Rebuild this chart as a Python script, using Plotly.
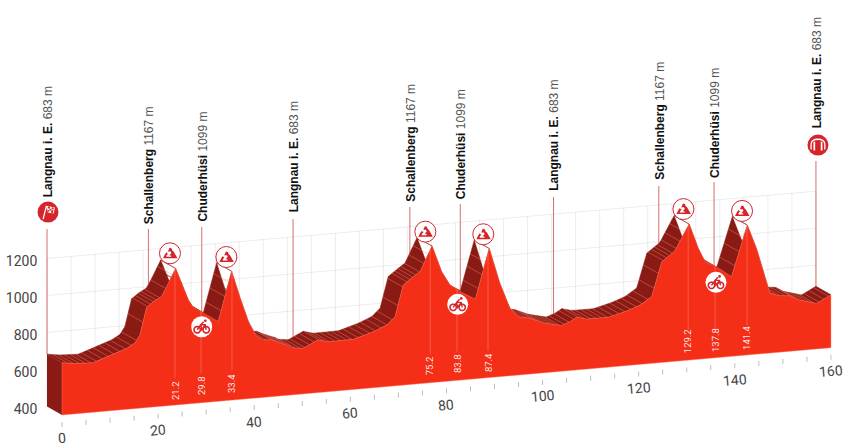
import numpy as np
import plotly.graph_objects as go

# ---- profile ----
profile_km = [0,2.7,6.5,7.9,10.7,13.5,15.2,16.2,17.6,19,20.7,21.8,23.65,24.9,26.3,27.3,28.7,30.4,32.5,35.3,37,38.8,40.4,41.9,43.6,45.4,47.4,47.8,50.2,53.3,55.4,60.6,64.8,67.6,69.3,71,73.1,74.5,77,79,80.7,83.5,86,88.9,91.1,93.2,95,97.4,100.1,103.9,105.7,107.1,109.2,113.7,117.5,120.3,122.7,124.8,127.5,130.5,132.4,133.8,136.6,139.3,142.6,144.5,147.3,149.4,151.5,153.2,157,160]
profile_ele = [683,672,668,680,705,730,756,795,942,969,993,1044,1138,1055,962,920,898,868,831,1097,954,816,736,711,707,685,665,655,647,685,670,671,703,733,774,941,981,1006,1138,995,920,868,831,1098,905,765,715,701,671,647,664,685,671,670,695,721,761,944,996,1135,999,925,883,831,1102,972,723,705,700,674,646,686]

stripe_km = [1.2,2.4,3.6,4.8,6,7.2,8.4,9.6,10.8,12,13.2,14.4,15.5,16.85,17.8,18.4,19,19.6,20.3,21.6,23,33.1,33.9,34.7,
             39.5,40.5,41.5,42.5,43.5,44.5,45.5,46.5,47.5,48.5,49.5,50.5,51.5,52.5,53.5,54.5,55.6,56.8,58,59.2,60.4,61.6,62.8,64,65.2,66.4,67.6,68.7,69.9,70.9,71.8,72.4,73,73.6,74.4,75.3,76.2,86.6,87.4,88.1,
             92.5,93.5,94.5,95.5,96.5,97.5,98.5,99.5,100.5,101.5,102.5,103.5,104.5,105.5,106.5,107.5,108.7,109.9,111.1,112.3,113.5,114.7,115.9,117.1,118.3,119.5,120.7,121.9,123.2,124.1,125.1,125.8,126.4,127,127.8,128.6,129.6,140,140.9,141.8,
             146.5,147.5,148.5,149.5,150.5,151.5,152.5,153.5,154.5,155.5,156.5,157.5,158.5,159.5]

# ---- axes ----
x_ticks = [0,20,40,60,80,100,120,140,160]
x_minor = list(range(0,161,5))
y_ticks = [400,600,800,1000,1200]
y_labels = ["400","600","800","1000","1200"]

# ---- named places ----
place_names = ["Langnau i. E.","Schallenberg","Chuderhüsi","Langnau i. E.","Schallenberg","Chuderhüsi","Langnau i. E.","Schallenberg","Chuderhüsi","Langnau i. E."]
place_alt = [683,1167,1099,683,1167,1099,683,1167,1099,683]
place_km = [0,21.1,32.2,51.2,75.5,86.0,105.4,127.3,138.8,160]
leader_top = [1405,1405,1416,1459,1524,1540,1578,1638,1659,1773]
label_base = [1568,1422,1433,1482,1541,1557,1601,1660,1671,1941]

# ---- km labels on the front face ----
split_text = ["21.2","29.8","33.4","75.2","83.8","87.4","129.2","137.8","141.4"]
split_x = [23.51,28.92,35.37,76.63,82.19,88.64,130.3,135.87,142.53]
split_y = [535,562,573,665,681,686,800,805,822]

# ---- icons ----
climb_x = [22.47,34.2,75.6,87.66,129.3,141.5]
climb_y = [1274,1254,1391,1377,1513,1503]
sprint_x = [29.07,82.33,136.08]
sprint_y = [877,998,1117]
start_xy = (-2.91,1497)
finish_xy = (157.3,1859)

# ---- projection constants ----
SHEAR = 2.274      # metres of rise per km along the receding axis
DEPTH_X = -3.12    # km
DEPTH_Y = 46       # metres

RED = "#F42E17"
DARK = "#8A1A14"
ICON = "#D5252B"

km = np.array(profile_km, float)
ele = np.array(profile_ele, float)

def fy(k, e):
    return np.asarray(e, float) + SHEAR*np.asarray(k, float)
def bx(k):
    return np.asarray(k, float) + DEPTH_X
def by(k, e):
    return fy(k, e) + DEPTH_Y
def lines(segs):
    xs, ys = [], []
    for (x0,y0,x1,y1) in segs:
        xs += [x0,x1,None]; ys += [y0,y1,None]
    return xs, ys

fig = go.Figure()
def add_lines(segs, color, width):
    xs, ys = lines(segs)
    fig.add_trace(go.Scatter(x=xs, y=ys, mode="lines", line=dict(color=color, width=width)))

# back-plane grid
grid = []
for e in y_ticks:
    grid.append((bx(0), by(0,e), bx(160), by(160,e)))
for k in x_minor:
    grid.append((bx(k), by(k,400), bx(k), by(k,1200)))
add_lines(grid, "rgba(0,0,0,0.075)", 1)

# left side face
fig.add_trace(go.Scatter(x=[0,0,bx(0),bx(0),0], y=[fy(0,400),fy(0,ele[0]),by(0,ele[0]),by(0,400),fy(0,400)],
                         mode="lines", fill="toself", fillcolor=DARK, line=dict(width=0)))

# receding band, one quad per segment
qx, qy = [], []
for i in range(len(km)-1):
    a, b = km[i], km[i+1]
    ea, eb = ele[i], ele[i+1]
    qx += [a, b, bx(b), bx(a), a, None]
    qy += [fy(a,ea), fy(b,eb), by(b,eb), by(a,ea), fy(a,ea), None]
fig.add_trace(go.Scatter(x=qx, y=qy, mode="lines", fill="toself", fillcolor=DARK, line=dict(width=0.5, color=DARK)))

# stripes across the band
st = []
for k in stripe_km:
    e = float(np.interp(k, km, ele))
    st.append((bx(k), by(k,e), k, fy(k,e)))
add_lines(st, "rgba(255,140,120,0.5)", 0.8)

# leader lines
lead = []
for k, top in zip(place_km, leader_top):
    e = float(np.interp(k, km, ele))
    lead.append((bx(k), top, bx(k), by(k,e)))
add_lines(lead, "rgba(200,50,50,0.7)", 1)

# front face
fig.add_trace(go.Scatter(x=list(km)+[160,0,0], y=list(fy(km,ele))+[fy(160,400),fy(0,400),fy(km[0],ele[0])],
                         mode="lines", fill="toself", fillcolor=RED, line=dict(width=0.6, color="rgba(255,120,100,0.7)")))

# thin white lines on the face
wl = []
for k, y in zip(split_x, split_y):
    e = float(np.interp(k, km, ele))
    wl.append((k, fy(k,e), k, y+62))
add_lines(wl, "rgba(255,255,255,0.22)", 1)

# ticks
ti = []
for k in x_minor:
    ti.append((k, fy(k,362), k, fy(k,335)))
add_lines(ti, "#BDBDBD", 1)

# icon discs
fig.add_trace(go.Scatter(x=climb_x, y=climb_y, mode="markers",
                         marker=dict(size=21, color="white", line=dict(color=ICON, width=1))))
fig.add_trace(go.Scatter(x=sprint_x, y=sprint_y, mode="markers",
                         marker=dict(size=21, color="white", line=dict(width=0))))
fig.add_trace(go.Scatter(x=[start_xy[0],finish_xy[0]], y=[start_xy[1],finish_xy[1]], mode="markers",
                         marker=dict(size=21, color=ICON, line=dict(width=0))))

# icon glyphs
def icon(x, y, path, fill=None, line=None, width=0):
    fig.add_shape(type="path", xsizemode="pixel", ysizemode="pixel", xanchor=x, yanchor=y, path=path,
                  fillcolor=fill if fill else "rgba(0,0,0,0)",
                  line=dict(color=line if line else "rgba(0,0,0,0)", width=width))

def ring(cx, cy, r, n=14):
    t = np.linspace(0, 2*np.pi, n, endpoint=False)
    pts = [f"{cx+r*np.cos(a):.2f},{cy+r*np.sin(a):.2f}" for a in t]
    return "M" + " L".join(pts) + " Z"

MOUNT = "M-7,-5 L-5,-1 L-3.5,1 L-2.4,1 L-0.5,5.5 L1.5,5 L2.5,2.5 L3.5,2 L7.5,-5 Z"
BLOB = "M-3.5,-3.5 L1.2,-3.5 L1.2,-2.2 L-0.8,-2.2 L1.4,0.2 L0.6,1.8 L-2,1.8 L-3.4,0.4 L-2.2,-0.4 L-1,0.4 L-3.5,-2.3 Z"
for x, y in zip(climb_x, climb_y):
    icon(x, y, MOUNT, fill=ICON)
    icon(x, y, BLOB, fill="white")

BIKE = "M-4.5,-3 L-1,2 L3.5,2 L4.5,-3 M-1,2 L0,-3 L3.5,2 M2,5 L-1,2"
for x, y in zip(sprint_x, sprint_y):
    icon(x, y, ring(-4.5,-3,3.2), line=ICON, width=1.6)
    icon(x, y, ring(4.5,-3,3.2), line=ICON, width=1.6)
    icon(x, y, BIKE, line=ICON, width=1.4)
    icon(x, y, ring(3.6,6,1.4), fill=ICON)

POLE = "M-5.5,-7 L-4.3,-7.2 L-1,6 L-2.2,6.3 Z"
FLAG = "M-2,6.3 L6.8,4.5 L5.8,-1.5 L-0.2,-0.5 Z"
CHECK = "M0,5.6 L2,5.2 L1.7,3.4 L-0.4,3.8 Z M3.8,4.8 L5.8,4.4 L5.5,2.6 L3.5,3 Z M1.7,3.4 L3.5,3 L3.2,1.2 L1.3,1.6 Z M-0.4,2.2 L-0.7,0.6 L1,0.3 L1.3,1.6 Z M5.4,2.4 L3.2,1.2 L3,-0.6 L5.1,-1 Z"
icon(start_xy[0], start_xy[1], POLE, fill="white")
icon(start_xy[0], start_xy[1], FLAG, fill="white")
icon(start_xy[0], start_xy[1], CHECK, fill=ICON)

ARCH = "M-7.5,-4.5 L-7.5,1 Q-7,6.5 0,6.5 Q7,6.5 7.5,1 L7.5,-4.5 L6.2,-4.5 L6.2,1 Q5.8,5.2 0,5.2 Q-5.8,5.2 -6.2,1 L-6.2,-4.5 Z"
POSTS = "M-4.5,-5.5 L-2.8,-5.5 L-2.8,3.6 L-4.5,3 Z M2.8,-5.5 L4.5,-5.5 L4.5,3 L2.8,3.6 Z"
icon(finish_xy[0], finish_xy[1], ARCH, fill="white")
icon(finish_xy[0], finish_xy[1], POSTS, fill="white")

# texts
ann = []
for name, alt, k, base in zip(place_names, place_alt, place_km, label_base):
    ann.append(dict(x=bx(k)+0.2, y=base, xref="x", yref="y", xanchor="center", yanchor="bottom", textangle=-90,
                    showarrow=False, text=f"<b>{name}</b> <span style='color:#555'>{alt} m</span>",
                    font=dict(family="Liberation Sans", size=12, color="#111")))
for t, k, y in zip(split_text, split_x, split_y):
    ann.append(dict(x=k, y=y, xref="x", yref="y", textangle=-90, showarrow=False, text=t,
                    font=dict(family="Roboto", size=9.5, color="rgba(255,255,255,0.9)")))
for k in x_ticks:
    ann.append(dict(x=k, y=fy(k,273), xref="x", yref="y", textangle=-5, showarrow=False, text=str(k),
                    font=dict(family="Roboto", size=14, color="#444")))

fig.update_layout(
    width=848, height=447, margin=dict(l=0, r=0, t=0, b=0),
    paper_bgcolor="white", plot_bgcolor="white", showlegend=False, hovermode=False,
    annotations=ann,
    xaxis=dict(range=[-12.9,163.55], visible=False, fixedrange=True),
    yaxis=dict(range=[227,2643.2], fixedrange=True, showgrid=False, zeroline=False, showline=False,
               anchor="free", position=0.044, side="left", ticks="",
               tickmode="array", tickvals=[v+DEPTH_Y-15 for v in y_ticks], ticktext=y_labels,
               tickfont=dict(family="Roboto", size=14, color="#444")),
)
fig.write_html("out.html", config=dict(displayModeBar=False),
               post_script="document.body.style.margin='0';document.body.style.overflow='hidden';")
